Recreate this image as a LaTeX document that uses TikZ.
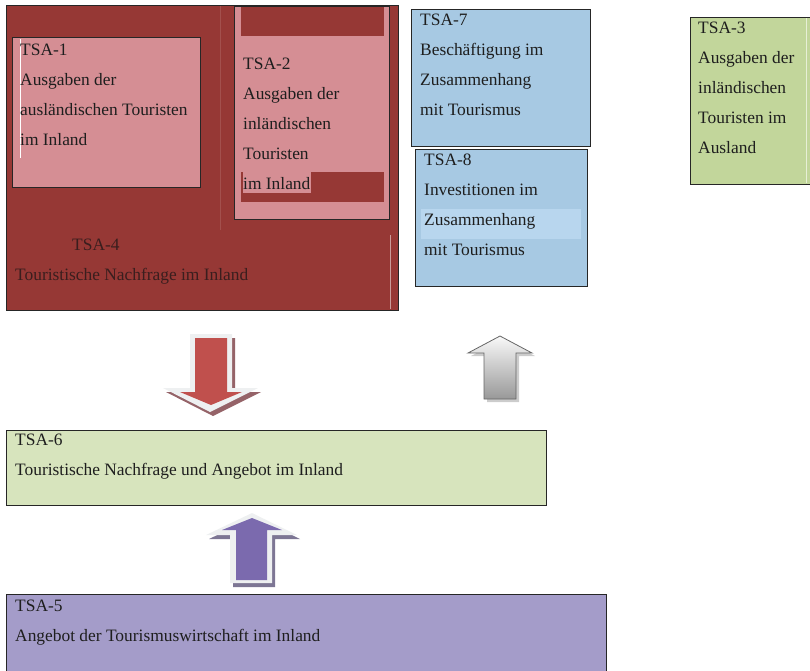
\documentclass[tikz,border=0pt]{standalone}
\usepackage{fontspec}
\setmainfont{Liberation Serif}
\usetikzlibrary{positioning}

\definecolor{tsared}{HTML}{963835}
\definecolor{tsapink}{HTML}{D58E94}
\definecolor{tsablue}{HTML}{A7C9E3}
\definecolor{tsablueli}{HTML}{B8D6EE}
\definecolor{tsagreen}{HTML}{C2D69B}
\definecolor{tsagreenli}{HTML}{D7E4BD}
\definecolor{tsapurple}{HTML}{A49CC9}
\definecolor{arrred}{HTML}{C0504D}
\definecolor{arrpurple}{HTML}{7B6AAE}
\definecolor{arrrim}{HTML}{EEF0F1}
\definecolor{txtgrey}{HTML}{1E1E1E}
\definecolor{txtbrown}{HTML}{3A1E1E}

\tikzset{
  tsabox/.style={draw=black!85,line width=0.8pt,rectangle,inner sep=0pt,anchor=north west},
  tsatext/.style={anchor=base west,align=left,inner sep=0pt,text=txtgrey,
    font=\fontsize{17.4}{30}\selectfont},
}

\begin{document}
\begin{tikzpicture}[x=1pt,y=-1pt]
		\useasboundingbox (0,0) rectangle (810,670);

		\node [tsabox,fill=tsared,minimum width=392,minimum height=305] (tsa4) at (6,5) {};
		\draw [white!12!tsared,line width=0.4pt] (220,6) -- (220,230);
		\draw [white!50!tsared,line width=0.4pt] (390,235) -- (390,309);
		\node [tsabox,fill=tsapink,minimum width=188,minimum height=150] (tsa1) at (12,37) {};
		\draw [white,line width=0.5pt] (20.5,39) -- (20.5,158);
		\node [tsabox,fill=tsapink,minimum width=155,minimum height=213] (tsa2) at (234,6) {};
		\fill [tsared] (241,7) rectangle (384,36);
		\fill [tsared] (241,172) rectangle (384,202);
		\fill [tsapink] (243,172) rectangle (311,193);

		\node [tsabox,fill=tsablue,minimum width=179,minimum height=137] (tsa7) at (411,9) {};
		\node [tsabox,fill=tsablue,minimum width=172,minimum height=137] (tsa8) at (415,149) {};
		\fill [tsablueli] (421,209) rectangle (581,239);
		\node [tsabox,fill=tsagreen,minimum width=125,minimum height=167] (tsa3) at (690,17) {};
		\draw [white!60!tsagreen,line width=0.5pt] (806,18) -- (806,183);
		\node [tsabox,fill=tsagreenli,minimum width=540,minimum height=75] (tsa6) at (6,430) {};
		\node [tsabox,fill=tsapurple,minimum width=600,minimum height=80] (tsa5) at (6,594) {};

		\node [tsatext] (lab1) at (20,145) {TSA-1\\Ausgaben der\\ausländischen Touristen\\im Inland};
		\node [tsatext] (lab2) at (243,189) {TSA-2\\Ausgaben der\\inländischen\\Touristen\\im Inland};
		\node [tsatext,text=txtbrown] (lab4) at (15,280) {\hspace*{57pt}TSA-4\\Touristische Nachfrage im Inland};
		\node [tsatext] (lab7) at (420,115) {TSA-7\\Beschäftigung im\\Zusammenhang\\mit Tourismus};
		\node [tsatext] (lab8) at (424,255) {TSA-8\\Investitionen im\\Zusammenhang\\mit Tourismus};
		\node [tsatext] (lab3) at (698,153) {TSA-3\\Ausgaben der\\inländischen\\Touristen im\\Ausland};
		\node [tsatext] (lab6) at (15,475) {TSA-6\\Touristische Nachfrage und Angebot im Inland};
		\node [tsatext] (lab5) at (15,641) {TSA-5\\Angebot der Tourismuswirtschaft im Inland};

		\fill [black!30!tsapink] (193,338) -- (235,338) -- (235,392) -- (261,392) -- (213,416) -- (166,392) -- (193,392) -- cycle;
		\fill [arrrim] (190,334) -- (232,334) -- (232,388) -- (258,388) -- (210,412) -- (163,388) -- (190,388) -- cycle;
		\fill [arrred] (195,338) -- (227,338) -- (227,392) -- (242,392) -- (211,405) -- (180,392) -- (195,392) -- cycle;

		\fill [black!20] (487,402) -- (519,402) -- (519,356) -- (535,356) -- (503,339) -- (471,356) -- (487,356) -- cycle;
		\shade [top color=gray!5,bottom color=gray!85!black!70,draw=black!60,line width=0.8pt]
			(484,399) -- (516,399) -- (516,353) -- (532,353) -- (500,336) -- (468,353) -- (484,353) -- cycle;

		\fill [arrpurple!45!gray] (233,587) -- (275,587) -- (275,539) -- (300,539) -- (255,517) -- (209,539) -- (233,539) -- cycle;
		\fill [arrrim] (230,583) -- (272,583) -- (272,535) -- (297,535) -- (252,513) -- (206,535) -- (230,535) -- cycle;
		\fill [arrpurple] (236,580) -- (267,580) -- (267,530) -- (282,530) -- (252,518) -- (222,530) -- (236,530) -- cycle;
	\end{tikzpicture}
\end{document}
